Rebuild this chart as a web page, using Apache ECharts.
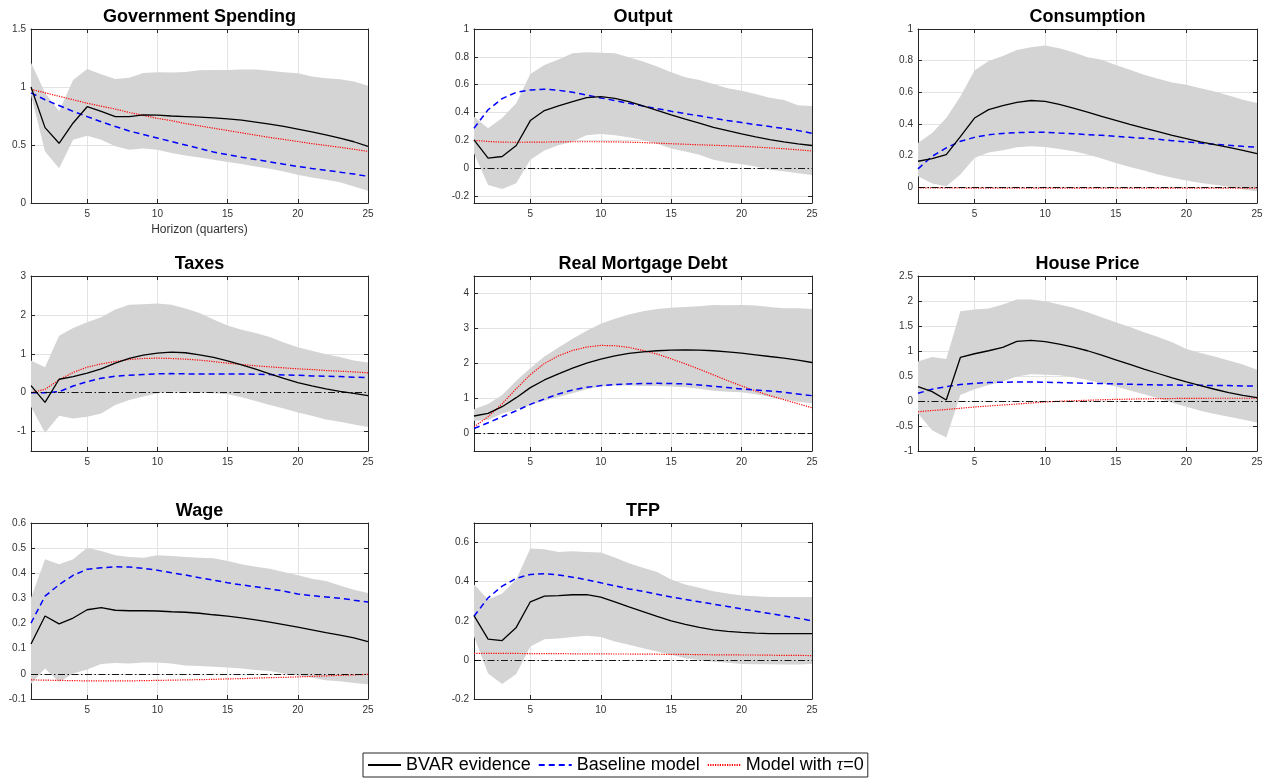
<!DOCTYPE html>
<html><head><meta charset="utf-8">
<script src="https://cdn.jsdelivr.net/npm/echarts@6/dist/echarts.min.js"></script>
<style>html,body{margin:0;padding:0;background:#fff}#c{width:1270px;height:780px}</style>
</head><body><div id="c"></div>
<script>
const horizons = [1,2,3,4,5,6,7,8,9,10,11,12,13,14,15,16,17,18,19,20,21,22,23,24,25];
const seriesNames = ['BVAR evidence', 'Baseline model', 'Model with τ=0'];

// Government Spending
const govBVAR = [1.00,0.65,0.515,0.69,0.83,0.79,0.745,0.745,0.76,0.757,0.75,0.745,0.74,0.734,0.726,0.714,0.697,0.68,0.66,0.637,0.614,0.588,0.56,0.528,0.488];
const govBase = [0.95,0.89,0.84,0.79,0.745,0.70,0.66,0.62,0.59,0.56,0.53,0.50,0.47,0.44,0.416,0.395,0.375,0.355,0.335,0.315,0.298,0.282,0.266,0.25,0.23];
const govTau0 = [0.98,0.95,0.92,0.89,0.86,0.835,0.81,0.78,0.755,0.73,0.71,0.685,0.665,0.645,0.625,0.605,0.585,0.565,0.548,0.53,0.512,0.496,0.48,0.463,0.445];
const govHigh = [1.21,0.95,0.79,1.06,1.156,1.11,1.07,1.08,1.12,1.127,1.124,1.13,1.144,1.147,1.147,1.15,1.15,1.14,1.127,1.118,1.09,1.075,1.067,1.047,1.01];
const govLow  = [0.93,0.445,0.30,0.545,0.58,0.545,0.49,0.46,0.47,0.46,0.43,0.41,0.393,0.373,0.353,0.336,0.315,0.295,0.272,0.244,0.22,0.2,0.178,0.143,0.106];
const govTicks = [0,0.5,1,1.5];

// Output
const outBVAR = [0.203,0.072,0.084,0.163,0.342,0.414,0.447,0.478,0.507,0.514,0.502,0.478,0.447,0.416,0.383,0.352,0.323,0.294,0.27,0.246,0.225,0.206,0.189,0.175,0.163];
const outBase = [0.287,0.42,0.50,0.545,0.562,0.567,0.56,0.545,0.526,0.505,0.486,0.466,0.447,0.428,0.409,0.392,0.376,0.359,0.342,0.328,0.313,0.299,0.285,0.27,0.251];
const outTau0 = [0.2,0.192,0.187,0.186,0.187,0.188,0.189,0.19,0.19,0.19,0.189,0.187,0.184,0.18,0.176,0.172,0.168,0.165,0.161,0.157,0.152,0.146,0.14,0.132,0.124];
const outHigh = [0.37,0.287,0.36,0.467,0.677,0.742,0.78,0.825,0.833,0.83,0.825,0.797,0.766,0.73,0.689,0.653,0.634,0.605,0.574,0.557,0.533,0.507,0.49,0.452,0.447];
const outLow  = [0.108,-0.12,-0.15,-0.108,0.06,0.127,0.165,0.191,0.237,0.246,0.237,0.222,0.203,0.175,0.141,0.12,0.096,0.06,0.041,0.029,0.012,-0.012,-0.022,-0.036,-0.048];
const outTicks = [-0.2,0,0.2,0.4,0.6,0.8,1];

// Consumption
const conBVAR = [0.164,0.18,0.206,0.32,0.437,0.49,0.515,0.536,0.548,0.542,0.523,0.5,0.475,0.447,0.422,0.397,0.374,0.351,0.328,0.307,0.286,0.269,0.252,0.233,0.212];
const conBase = [0.116,0.195,0.248,0.29,0.315,0.332,0.34,0.345,0.347,0.347,0.342,0.338,0.332,0.328,0.321,0.315,0.309,0.303,0.294,0.286,0.279,0.271,0.265,0.258,0.252];
const conTau0 = [-0.004,-0.005,-0.005,-0.005,-0.006,-0.006,-0.006,-0.006,-0.006,-0.006,-0.006,-0.006,-0.006,-0.006,-0.006,-0.006,-0.006,-0.006,-0.006,-0.006,-0.006,-0.006,-0.006,-0.006,-0.006];
const conHigh = [0.28,0.342,0.437,0.574,0.737,0.798,0.83,0.868,0.884,0.895,0.878,0.853,0.821,0.805,0.773,0.742,0.71,0.685,0.662,0.647,0.626,0.605,0.58,0.553,0.532];
const conLow  = [0.069,0.023,0.006,0.08,0.185,0.22,0.233,0.252,0.258,0.254,0.242,0.227,0.206,0.181,0.153,0.128,0.105,0.08,0.059,0.042,0.027,0.015,0.002,-0.015,-0.025];
const conTicks = [0,0.2,0.4,0.6,0.8,1];

// Taxes
const taxBVAR = [0.18,-0.25,0.345,0.41,0.5,0.61,0.76,0.88,0.966,1.017,1.043,1.026,0.974,0.905,0.819,0.716,0.603,0.483,0.37,0.259,0.172,0.095,0.034,-0.017,-0.078];
const taxBase = [0,0,0.026,0.172,0.284,0.37,0.422,0.448,0.466,0.483,0.491,0.483,0.483,0.483,0.483,0.483,0.474,0.466,0.457,0.448,0.431,0.422,0.414,0.397,0.388];
const taxTau0 = [0,0.086,0.33,0.52,0.655,0.74,0.8,0.853,0.879,0.888,0.879,0.862,0.836,0.8,0.759,0.724,0.69,0.664,0.638,0.612,0.595,0.569,0.552,0.534,0.509];
const taxHigh = [0.83,0.655,1.465,1.66,1.81,1.94,2.14,2.26,2.276,2.293,2.26,2.164,2.05,1.88,1.724,1.62,1.534,1.43,1.29,1.17,1.078,0.99,0.914,0.828,0.776];
const taxLow  = [-0.36,-1.03,-0.595,-0.664,-0.62,-0.534,-0.32,-0.19,-0.1,-0.017,0.026,0.026,0,-0.017,-0.043,-0.12,-0.216,-0.32,-0.405,-0.51,-0.595,-0.69,-0.75,-0.82,-0.88];
const taxTicks = [-1,0,1,2,3];

// Real Mortgage Debt
const mortBVAR = [0.5,0.574,0.766,1.024,1.31,1.53,1.703,1.866,2.01,2.124,2.22,2.287,2.335,2.364,2.383,2.392,2.383,2.364,2.335,2.297,2.249,2.2,2.153,2.096,2.029];
const mortBase = [0.144,0.306,0.478,0.65,0.833,0.986,1.13,1.244,1.32,1.368,1.397,1.416,1.426,1.435,1.426,1.416,1.388,1.349,1.311,1.273,1.244,1.215,1.177,1.129,1.081];
const mortTau0 = [0.19,0.48,0.85,1.28,1.68,2.0,2.22,2.373,2.47,2.517,2.507,2.46,2.373,2.268,2.134,1.99,1.837,1.675,1.512,1.359,1.215,1.081,0.967,0.852,0.737];
const mortHigh = [0.69,0.842,1.1,1.51,1.866,2.2,2.46,2.708,2.938,3.139,3.28,3.397,3.493,3.56,3.59,3.617,3.636,3.675,3.665,3.675,3.656,3.617,3.579,3.579,3.56];
const mortLow  = [0.364,0.383,0.574,0.689,0.813,0.938,1.043,1.148,1.263,1.34,1.368,1.368,1.359,1.359,1.34,1.321,1.282,1.225,1.196,1.177,1.12,1.053,0.976,0.909,0.861];
const mortTicks = [0,1,2,3,4];

// House Price
const hpBVAR = [0.288,0.188,0.02,0.871,0.945,1.005,1.072,1.193,1.213,1.186,1.139,1.079,1.005,0.918,0.824,0.731,0.637,0.55,0.462,0.382,0.308,0.235,0.168,0.114,0.067];
const hpBase = [0.154,0.235,0.288,0.328,0.355,0.369,0.375,0.382,0.382,0.375,0.369,0.362,0.355,0.349,0.342,0.335,0.328,0.322,0.322,0.315,0.315,0.308,0.308,0.302,0.302];
const hpTau0 = [-0.215,-0.19,-0.17,-0.145,-0.12,-0.1,-0.08,-0.06,-0.04,-0.02,-0.005,0.005,0.015,0.025,0.032,0.038,0.043,0.047,0.05,0.052,0.054,0.055,0.055,0.055,0.055];
const hpHigh = [0.79,0.878,0.838,1.796,1.83,1.85,1.93,2.03,2.03,1.997,1.93,1.863,1.776,1.676,1.575,1.481,1.374,1.28,1.173,1.039,0.958,0.891,0.811,0.731,0.623];
const hpLow  = [-0.248,-0.583,-0.73,0.121,0.235,0.322,0.389,0.489,0.536,0.523,0.516,0.476,0.422,0.355,0.288,0.208,0.134,0.054,-0.034,-0.114,-0.194,-0.261,-0.315,-0.369,-0.429];
const hpTicks = [-1,-0.5,0,0.5,1,1.5,2,2.5];

// Wage
const wgBVAR = [0.119,0.23,0.199,0.222,0.255,0.263,0.253,0.251,0.251,0.25,0.247,0.245,0.241,0.235,0.23,0.223,0.215,0.206,0.196,0.186,0.175,0.164,0.154,0.143,0.128];
const wgBase = [0.202,0.309,0.355,0.392,0.416,0.422,0.426,0.425,0.42,0.412,0.402,0.393,0.382,0.373,0.362,0.354,0.346,0.338,0.329,0.318,0.311,0.306,0.301,0.293,0.286];
const wgTau0 = [-0.024,-0.025,-0.026,-0.027,-0.028,-0.028,-0.028,-0.028,-0.027,-0.026,-0.025,-0.024,-0.023,-0.022,-0.02,-0.019,-0.017,-0.015,-0.014,-0.012,-0.01,-0.008,-0.006,-0.004,-0.002];
const wgHigh = [0.302,0.456,0.436,0.456,0.502,0.489,0.472,0.465,0.462,0.472,0.469,0.465,0.462,0.46,0.449,0.436,0.426,0.418,0.405,0.392,0.378,0.369,0.351,0.335,0.322];
const wgLow  = [-0.039,0.021,-0.032,0.001,0.017,0.039,0.043,0.041,0.045,0.045,0.041,0.033,0.031,0.028,0.025,0.021,0.015,0.011,0.001,-0.007,-0.015,-0.025,-0.029,-0.036,-0.041];
const wgTicks = [-0.1,0,0.1,0.2,0.3,0.4,0.5,0.6];

// TFP
const tfpBVAR = [0.226,0.106,0.099,0.166,0.297,0.326,0.329,0.333,0.334,0.321,0.297,0.271,0.247,0.223,0.2,0.182,0.166,0.154,0.146,0.141,0.137,0.134,0.134,0.134,0.134];
const tfpBase = [0.223,0.317,0.377,0.417,0.437,0.441,0.434,0.423,0.41,0.394,0.379,0.363,0.35,0.336,0.322,0.309,0.297,0.285,0.273,0.261,0.249,0.237,0.225,0.213,0.2];
const tfpTau0 = [0.033,0.033,0.033,0.033,0.032,0.032,0.032,0.031,0.031,0.031,0.03,0.03,0.029,0.029,0.028,0.028,0.027,0.026,0.026,0.025,0.025,0.024,0.023,0.023,0.022];
const tfpHigh = [0.386,0.309,0.339,0.411,0.569,0.566,0.552,0.555,0.552,0.549,0.523,0.494,0.471,0.449,0.411,0.386,0.369,0.351,0.339,0.329,0.326,0.322,0.322,0.321,0.321];
const tfpLow  = [0.12,-0.069,-0.123,-0.072,0.069,0.106,0.11,0.117,0.123,0.117,0.094,0.077,0.06,0.043,0.026,0.009,0,-0.009,-0.014,-0.021,-0.022,-0.022,-0.024,-0.024,-0.021];
const tfpTicks = [-0.2,0,0.2,0.4,0.6];

const panels = [
  {title:'Government Spending', bvar:govBVAR, base:govBase, tau:govTau0, high:govHigh, low:govLow, ticks:govTicks, min:0, max:1.5, zero:false, xname:'Horizon (quarters)'},
  {title:'Output', bvar:outBVAR, base:outBase, tau:outTau0, high:outHigh, low:outLow, ticks:outTicks, min:-0.25, max:1, zero:true},
  {title:'Consumption', bvar:conBVAR, base:conBase, tau:conTau0, high:conHigh, low:conLow, ticks:conTicks, min:-0.1, max:1, zero:true},
  {title:'Taxes', bvar:taxBVAR, base:taxBase, tau:taxTau0, high:taxHigh, low:taxLow, ticks:taxTicks, min:-1.5, max:3, zero:true},
  {title:'Real Mortgage Debt', bvar:mortBVAR, base:mortBase, tau:mortTau0, high:mortHigh, low:mortLow, ticks:mortTicks, min:-0.5, max:4.5, zero:true},
  {title:'House Price', bvar:hpBVAR, base:hpBase, tau:hpTau0, high:hpHigh, low:hpLow, ticks:hpTicks, min:-1, max:2.5, zero:true},
  {title:'Wage', bvar:wgBVAR, base:wgBase, tau:wgTau0, high:wgHigh, low:wgLow, ticks:wgTicks, min:-0.1, max:0.6, zero:true},
  {title:'TFP', bvar:tfpBVAR, base:tfpBase, tau:tfpTau0, high:tfpHigh, low:tfpLow, ticks:tfpTicks, min:-0.2, max:0.7, zero:true}
];

// layout (pixels)
const colLeft = [31, 474, 918];
const colWidth = [337, 338, 339];
const rowTop = [29, 276, 523];
const rowHeight = [174, 175, 176];

const FONT = 'Liberation Sans, Arial, Helvetica, sans-serif';
const AX = '#262626';
const every5 = (idx, val) => Number(val) % 5 === 0;
const lineColors = ['#000000', '#0000ff', '#ff0000'];

const grids = [], xAxes = [], yAxes = [], series = [];
panels.forEach((p, i) => {
  const r = Math.floor(i / 3), c = i % 3;
  grids.push({left: colLeft[c], top: rowTop[r], width: colWidth[c], height: rowHeight[r], containLabel: false});
  xAxes.push({
    type: 'category', gridIndex: i, data: horizons, boundaryGap: false, position: 'bottom',
    axisLine: {show: true, onZero: false, lineStyle: {color: AX, width: 1}},
    axisTick: {show: true, inside: true, length: 4, interval: every5, lineStyle: {color: AX}},
    axisLabel: {interval: every5, color: '#333', fontSize: 10, margin: 6, fontFamily: FONT},
    splitLine: {show: true, interval: every5, lineStyle: {color: '#e3e3e3', width: 1}},
    name: p.xname || '', nameLocation: 'middle', nameGap: 21,
    nameTextStyle: {fontSize: 12, color: '#333', fontFamily: FONT}
  });
  xAxes.push({
    type: 'category', gridIndex: i, data: horizons, boundaryGap: false, position: 'top',
    axisLine: {show: true, onZero: false, lineStyle: {color: AX, width: 1}},
    axisTick: {show: true, inside: true, length: 4, interval: every5, lineStyle: {color: AX}},
    axisLabel: {show: false}, splitLine: {show: false},
    name: p.title, nameLocation: 'middle', nameGap: 3,
    nameTextStyle: {fontSize: 18, fontWeight: 'bold', color: '#000', fontFamily: FONT}
  });
  yAxes.push({
    type: 'value', gridIndex: i, min: p.min, max: p.max, position: 'left',
    axisLine: {show: true, onZero: false, lineStyle: {color: AX, width: 1}},
    axisTick: {show: true, inside: true, length: 4, customValues: p.ticks, lineStyle: {color: AX}},
    axisLabel: {customValues: p.ticks, color: '#333', fontSize: 10, margin: 5, fontFamily: FONT},
    splitLine: {show: true, lineStyle: {color: '#e3e3e3', width: 1}}
  });
  yAxes.push({
    type: 'value', gridIndex: i, min: p.min, max: p.max, position: 'right',
    axisLine: {show: true, onZero: false, lineStyle: {color: AX, width: 1}},
    axisTick: {show: true, inside: true, length: 4, customValues: p.ticks, lineStyle: {color: AX}},
    axisLabel: {show: false}, splitLine: {show: false}
  });
  const xi = 2 * i, yi = 2 * i;
  series.push({
    type: 'line', xAxisIndex: xi, yAxisIndex: yi, data: p.low, stack: 'band' + i, stackStrategy: 'all',
    symbol: 'none', silent: true, lineStyle: {opacity: 0}, z: 1
  });
  const bandSeries = {
    type: 'line', xAxisIndex: xi, yAxisIndex: yi,
    data: p.high.map((v, k) => +(v - p.low[k]).toFixed(4)), stack: 'band' + i, stackStrategy: 'all',
    symbol: 'none', silent: true, lineStyle: {opacity: 0}, areaStyle: {color: '#d4d4d4', opacity: 1}, z: 1
  };
  if (p.zero) {
    bandSeries.markLine = {
      silent: true, symbol: 'none', label: {show: false}, animation: false,
      lineStyle: {color: '#000', width: 0.9, type: [7, 2.5, 1.5, 2.5]},
      data: [{yAxis: 0}]
    };
  }
  series.push(bandSeries);
  series.push({
    name: seriesNames[2], type: 'line', xAxisIndex: xi, yAxisIndex: yi, data: p.tau,
    symbol: 'none', itemStyle: {color: lineColors[2]},
    lineStyle: {color: lineColors[2], width: 1.2, type: [1.2, 1.2]}, z: 3
  });
  series.push({
    name: seriesNames[1], type: 'line', xAxisIndex: xi, yAxisIndex: yi, data: p.base,
    symbol: 'none', itemStyle: {color: lineColors[1]},
    lineStyle: {color: lineColors[1], width: 1.5, type: [6, 4]}, z: 3
  });
  series.push({
    name: seriesNames[0], type: 'line', xAxisIndex: xi, yAxisIndex: yi, data: p.bvar,
    symbol: 'none', itemStyle: {color: lineColors[0]},
    lineStyle: {color: lineColors[0], width: 1.3, type: 'solid'}, z: 4
  });
});

const chart = echarts.init(document.getElementById('c'));
chart.setOption({
  animation: false,
  backgroundColor: '#fff',
  grid: grids,
  xAxis: xAxes,
  yAxis: yAxes,
  legend: {
    data: seriesNames, left: 363, top: 753, orient: 'horizontal',
    itemWidth: 33, itemHeight: 14, itemGap: 7, padding: [3, 4, 3, 4],
    borderColor: AX, borderWidth: 1, backgroundColor: '#fff',
    selectedMode: false,
    itemStyle: {opacity: 0, borderWidth: 0},
    textStyle: {fontSize: 18, color: '#000', fontFamily: FONT,
      rich: {i: {fontSize: 18, fontStyle: 'italic', fontFamily: 'Liberation Serif, serif', color: '#000'}}},
    formatter: name => name.indexOf('τ') >= 0 ? name.replace('τ', '{i|τ}') : name
  },
  series: series
});
</script>
</body></html>
